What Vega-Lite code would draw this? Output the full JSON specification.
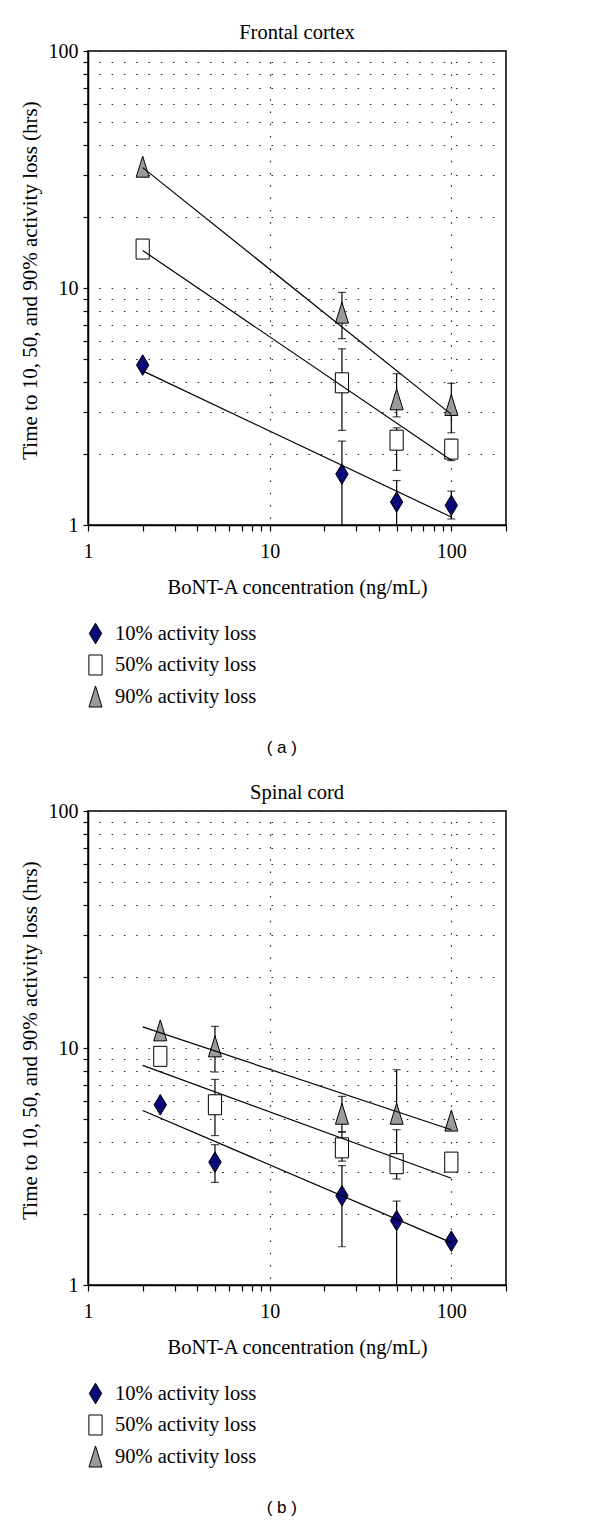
{
  "$schema": "https://vega.github.io/schema/vega-lite/v6.json",
  "padding": {"left": 18, "top": 21, "right": 5, "bottom": 5},
  "background": "white",
  "config": {
    "view": {"stroke": "black", "strokeWidth": 1.5},
    "font": "Liberation Serif",
    "axis": {
      "labelFont": "Liberation Serif",
      "labelFontSize": 20,
      "labelColor": "black",
      "titleFont": "Liberation Serif",
      "titleFontWeight": "normal",
      "titleColor": "black",
      "domainColor": "black",
      "domainWidth": 1.5,
      "tickColor": "black",
      "tickWidth": 1.2,
      "gridColor": "#222222",
      "gridWidth": 1.2,
      "gridDash": [1.5, 10.8],
      "gridDashOffset": 1.5,
      "labelOverlap": false,
      "labelFlush": false
    },
    "legend": {
      "orient": "none",
      "legendX": -3,
      "legendY": 572,
      "direction": "vertical",
      "labelFont": "Liberation Serif",
      "labelFontSize": 20.5,
      "labelColor": "black",
      "symbolSize": 400,
      "symbolStrokeColor": "black",
      "symbolStrokeWidth": 1,
      "symbolOpacity": 1,
      "rowPadding": 6.5,
      "labelOffset": 9
    }
  },
  "datasets": {
    "pts": [
      {"panel": "a", "series": "10% activity loss", "x": 2, "y": 4.73, "lo": null, "hi": null},
      {"panel": "a", "series": "10% activity loss", "x": 25, "y": 1.64, "lo": 0.97, "hi": 2.26},
      {"panel": "a", "series": "10% activity loss", "x": 50, "y": 1.25, "lo": 0.97, "hi": 1.54},
      {"panel": "a", "series": "10% activity loss", "x": 100, "y": 1.21, "lo": 1.06, "hi": 1.39},
      {"panel": "a", "series": "50% activity loss", "x": 2, "y": 14.6, "lo": null, "hi": null},
      {"panel": "a", "series": "50% activity loss", "x": 25, "y": 3.98, "lo": 2.51, "hi": 5.54},
      {"panel": "a", "series": "50% activity loss", "x": 50, "y": 2.28, "lo": 1.70, "hi": 2.57},
      {"panel": "a", "series": "50% activity loss", "x": 100, "y": 2.09, "lo": 1.87, "hi": 2.30},
      {"panel": "a", "series": "90% activity loss", "x": 2, "y": 32.5, "lo": null, "hi": null},
      {"panel": "a", "series": "90% activity loss", "x": 25, "y": 7.87, "lo": 6.11, "hi": 9.59},
      {"panel": "a", "series": "90% activity loss", "x": 50, "y": 3.39, "lo": 2.86, "hi": 4.35},
      {"panel": "a", "series": "90% activity loss", "x": 100, "y": 3.21, "lo": 2.45, "hi": 3.96},
      {"panel": "b", "series": "10% activity loss", "x": 2.5, "y": 5.76, "lo": null, "hi": null},
      {"panel": "b", "series": "10% activity loss", "x": 5, "y": 3.30, "lo": 2.71, "hi": 3.91},
      {"panel": "b", "series": "10% activity loss", "x": 25, "y": 2.38, "lo": 1.45, "hi": 3.19},
      {"panel": "b", "series": "10% activity loss", "x": 50, "y": 1.87, "lo": 0.95, "hi": 2.26},
      {"panel": "b", "series": "10% activity loss", "x": 100, "y": 1.53, "lo": null, "hi": null},
      {"panel": "b", "series": "50% activity loss", "x": 2.5, "y": 9.22, "lo": null, "hi": null},
      {"panel": "b", "series": "50% activity loss", "x": 5, "y": 5.76, "lo": 4.27, "hi": 7.37},
      {"panel": "b", "series": "50% activity loss", "x": 25, "y": 3.79, "lo": 3.33, "hi": 4.42},
      {"panel": "b", "series": "50% activity loss", "x": 50, "y": 3.25, "lo": 2.80, "hi": 4.52},
      {"panel": "b", "series": "50% activity loss", "x": 100, "y": 3.30, "lo": null, "hi": null},
      {"panel": "b", "series": "90% activity loss", "x": 2.5, "y": 11.87, "lo": null, "hi": null},
      {"panel": "b", "series": "90% activity loss", "x": 5, "y": 10.16, "lo": 7.92, "hi": 12.34},
      {"panel": "b", "series": "90% activity loss", "x": 25, "y": 5.28, "lo": 4.44, "hi": 6.25},
      {"panel": "b", "series": "90% activity loss", "x": 50, "y": 5.28, "lo": 4.79, "hi": 8.10},
      {"panel": "b", "series": "90% activity loss", "x": 100, "y": 4.94, "lo": null, "hi": null}
    ],
    "trend": [
      {"panel": "a", "series": "10% activity loss", "x": 2, "y": 4.47},
      {"panel": "a", "series": "10% activity loss", "x": 100, "y": 1.08},
      {"panel": "a", "series": "50% activity loss", "x": 2, "y": 14.4},
      {"panel": "a", "series": "50% activity loss", "x": 100, "y": 1.875},
      {"panel": "a", "series": "90% activity loss", "x": 2, "y": 32.2},
      {"panel": "a", "series": "90% activity loss", "x": 100, "y": 2.93},
      {"panel": "b", "series": "10% activity loss", "x": 2, "y": 5.45},
      {"panel": "b", "series": "10% activity loss", "x": 100, "y": 1.51},
      {"panel": "b", "series": "50% activity loss", "x": 2, "y": 8.45},
      {"panel": "b", "series": "50% activity loss", "x": 100, "y": 2.82},
      {"panel": "b", "series": "90% activity loss", "x": 2, "y": 12.27},
      {"panel": "b", "series": "90% activity loss", "x": 100, "y": 4.52}
    ]
  },
  "spacing": 25,
  "resolve": {"scale": {"shape": "independent", "fill": "independent"}, "legend": {"shape": "independent", "fill": "independent"}},
  "vconcat": [
    {
      "title": {"text": "( a )", "orient": "bottom", "anchor": "middle", "font": "Liberation Sans", "fontSize": 17, "fontWeight": "normal", "color": "black", "dx": 19, "offset": 30},
      "resolve": {"legend": {"shape": "independent", "fill": "independent"}},
      "vconcat": [
        {
          "width": 418,
          "height": 474,
          "title": {"text": "Frontal cortex", "anchor": "middle", "font": "Liberation Serif", "fontSize": 20.5, "fontWeight": "normal", "color": "black", "offset": -2},
          "encoding": {
            "x": {
              "field": "x", "type": "quantitative",
              "scale": {"type": "log", "domain": [1, 200]},
              "axis": {
                "title": "BoNT-A concentration (ng/mL)",
                "titleFontSize": 20.5,
                "titlePadding": 16,
                "values": [1, 2, 3, 4, 5, 6, 7, 8, 9, 10, 20, 30, 40, 50, 60, 70, 80, 90, 100, 200],
                "labelExpr": "datum.value == 1 || datum.value == 10 || datum.value == 100 ? toString(datum.value) : ''",
                "tickSize": 6,
                "labelPadding": 10,
                "grid": true,
                "gridOpacity": {"condition": {"test": "datum.value == 10 || datum.value == 100", "value": 1}, "value": 0}
              }
            }
          },
          "layer": [
            {
              "data": {"name": "pts"},
              "transform": [{"filter": "datum.panel == 'a' && datum.lo != null"}],
              "mark": {"type": "rule", "color": "black", "strokeWidth": 1.2, "clip": true},
              "encoding": {
                "y": {"field": "lo", "type": "quantitative", "scale": {"type": "log", "domain": [1, 100]},
                  "axis": {"title": "Time to 10, 50, and 90% activity loss (hrs)", "titleFontSize": 21, "titlePadding": 8, "titleY": 229, "values": [1, 2, 3, 4, 5, 6, 7, 8, 9, 10, 20, 30, 40, 50, 60, 70, 80, 90, 100], "labelExpr": "datum.value == 1 || datum.value == 10 || datum.value == 100 ? toString(datum.value) : ''", "tickSize": 5, "labelPadding": 5, "grid": true}},
                "y2": {"field": "hi"}
              }
            },
            {
              "data": {"name": "pts"},
              "transform": [{"filter": "datum.panel == 'a' && datum.lo != null"}, {"fold": ["lo", "hi"], "as": ["end", "val"]}],
              "mark": {"type": "tick", "orient": "horizontal", "color": "black", "size": 8, "thickness": 1.2, "clip": true},
              "encoding": {
                "y": {"field": "val", "type": "quantitative", "scale": {"type": "log", "domain": [1, 100]},
                  "axis": {"title": "Time to 10, 50, and 90% activity loss (hrs)", "titleFontSize": 21, "titlePadding": 8, "titleY": 229, "values": [1, 2, 3, 4, 5, 6, 7, 8, 9, 10, 20, 30, 40, 50, 60, 70, 80, 90, 100], "labelExpr": "datum.value == 1 || datum.value == 10 || datum.value == 100 ? toString(datum.value) : ''", "tickSize": 5, "labelPadding": 5, "grid": true}}
              }
            },
            {
              "data": {"name": "pts"},
              "transform": [{"filter": "datum.panel == 'a'"}],
              "mark": {"type": "point", "filled": true, "opacity": 1, "stroke": "black", "strokeWidth": 1, "size": 400},
              "encoding": {
                "y": {"field": "y", "type": "quantitative", "scale": {"type": "log", "domain": [1, 100]},
                  "axis": {"title": "Time to 10, 50, and 90% activity loss (hrs)", "titleFontSize": 21, "titlePadding": 8, "titleY": 229, "values": [1, 2, 3, 4, 5, 6, 7, 8, 9, 10, 20, 30, 40, 50, 60, 70, 80, 90, 100], "labelExpr": "datum.value == 1 || datum.value == 10 || datum.value == 100 ? toString(datum.value) : ''", "tickSize": 5, "labelPadding": 5, "grid": true}},
                "shape": {
                  "field": "series", "type": "nominal",
                  "scale": {"domain": ["10% activity loss", "50% activity loss", "90% activity loss"], "range": ["M0,-1.03L0.62,0L0,1.03L-0.62,0Z", "M-0.66,-1H0.66V1H-0.66Z", "M0,-1.05L0.65,1.05H-0.65Z"]},
                  "legend": {"title": null, "encode": {"symbols": {"update": {"stroke": {"value": "black"}, "strokeWidth": {"value": 1}}}}}
                },
                "fill": {
                  "field": "series", "type": "nominal",
                  "scale": {"domain": ["10% activity loss", "50% activity loss", "90% activity loss"], "range": ["#0a0a78", "#ffffff", "#9a9a9a"]},
                  "legend": {"title": null, "encode": {"symbols": {"update": {"stroke": {"value": "black"}, "strokeWidth": {"value": 1}}}}}
                }
              }
            },
            {
              "data": {"name": "trend"},
              "transform": [{"filter": "datum.panel == 'a'"}],
              "mark": {"type": "line", "color": "black", "strokeWidth": 1.2},
              "encoding": {
                "y": {"field": "y", "type": "quantitative", "scale": {"type": "log", "domain": [1, 100]},
                  "axis": {"title": "Time to 10, 50, and 90% activity loss (hrs)", "titleFontSize": 21, "titlePadding": 8, "titleY": 229, "values": [1, 2, 3, 4, 5, 6, 7, 8, 9, 10, 20, 30, 40, 50, 60, 70, 80, 90, 100], "labelExpr": "datum.value == 1 || datum.value == 10 || datum.value == 100 ? toString(datum.value) : ''", "tickSize": 5, "labelPadding": 5, "grid": true}},
                "detail": {"field": "series"}
              }
            }
          ]
        }
      ]
    },
    {
      "title": {"text": "( b )", "orient": "bottom", "anchor": "middle", "font": "Liberation Sans", "fontSize": 17, "fontWeight": "normal", "color": "black", "dx": 19, "offset": 30},
      "resolve": {"legend": {"shape": "independent", "fill": "independent"}},
      "vconcat": [
        {
          "width": 418,
          "height": 474,
          "title": {"text": "Spinal cord", "anchor": "middle", "font": "Liberation Serif", "fontSize": 20.5, "fontWeight": "normal", "color": "black", "offset": -2},
          "encoding": {
            "x": {
              "field": "x", "type": "quantitative",
              "scale": {"type": "log", "domain": [1, 200]},
              "axis": {
                "title": "BoNT-A concentration (ng/mL)",
                "titleFontSize": 20.5,
                "titlePadding": 16,
                "values": [1, 2, 3, 4, 5, 6, 7, 8, 9, 10, 20, 30, 40, 50, 60, 70, 80, 90, 100, 200],
                "labelExpr": "datum.value == 1 || datum.value == 10 || datum.value == 100 ? toString(datum.value) : ''",
                "tickSize": 6,
                "labelPadding": 10,
                "grid": true,
                "gridOpacity": {"condition": {"test": "datum.value == 10 || datum.value == 100", "value": 1}, "value": 0}
              }
            }
          },
          "layer": [
            {
              "data": {"name": "pts"},
              "transform": [{"filter": "datum.panel == 'b' && datum.lo != null"}],
              "mark": {"type": "rule", "color": "black", "strokeWidth": 1.2, "clip": true},
              "encoding": {
                "y": {"field": "lo", "type": "quantitative", "scale": {"type": "log", "domain": [1, 100]},
                  "axis": {"title": "Time to 10, 50, and 90% activity loss (hrs)", "titleFontSize": 21, "titlePadding": 8, "titleY": 229, "values": [1, 2, 3, 4, 5, 6, 7, 8, 9, 10, 20, 30, 40, 50, 60, 70, 80, 90, 100], "labelExpr": "datum.value == 1 || datum.value == 10 || datum.value == 100 ? toString(datum.value) : ''", "tickSize": 5, "labelPadding": 5, "grid": true}},
                "y2": {"field": "hi"}
              }
            },
            {
              "data": {"name": "pts"},
              "transform": [{"filter": "datum.panel == 'b' && datum.lo != null"}, {"fold": ["lo", "hi"], "as": ["end", "val"]}],
              "mark": {"type": "tick", "orient": "horizontal", "color": "black", "size": 8, "thickness": 1.2, "clip": true},
              "encoding": {
                "y": {"field": "val", "type": "quantitative", "scale": {"type": "log", "domain": [1, 100]},
                  "axis": {"title": "Time to 10, 50, and 90% activity loss (hrs)", "titleFontSize": 21, "titlePadding": 8, "titleY": 229, "values": [1, 2, 3, 4, 5, 6, 7, 8, 9, 10, 20, 30, 40, 50, 60, 70, 80, 90, 100], "labelExpr": "datum.value == 1 || datum.value == 10 || datum.value == 100 ? toString(datum.value) : ''", "tickSize": 5, "labelPadding": 5, "grid": true}}
              }
            },
            {
              "data": {"name": "pts"},
              "transform": [{"filter": "datum.panel == 'b'"}],
              "mark": {"type": "point", "filled": true, "opacity": 1, "stroke": "black", "strokeWidth": 1, "size": 400},
              "encoding": {
                "y": {"field": "y", "type": "quantitative", "scale": {"type": "log", "domain": [1, 100]},
                  "axis": {"title": "Time to 10, 50, and 90% activity loss (hrs)", "titleFontSize": 21, "titlePadding": 8, "titleY": 229, "values": [1, 2, 3, 4, 5, 6, 7, 8, 9, 10, 20, 30, 40, 50, 60, 70, 80, 90, 100], "labelExpr": "datum.value == 1 || datum.value == 10 || datum.value == 100 ? toString(datum.value) : ''", "tickSize": 5, "labelPadding": 5, "grid": true}},
                "shape": {
                  "field": "series", "type": "nominal",
                  "scale": {"domain": ["10% activity loss", "50% activity loss", "90% activity loss"], "range": ["M0,-1.03L0.62,0L0,1.03L-0.62,0Z", "M-0.66,-1H0.66V1H-0.66Z", "M0,-1.05L0.65,1.05H-0.65Z"]},
                  "legend": {"title": null, "encode": {"symbols": {"update": {"stroke": {"value": "black"}, "strokeWidth": {"value": 1}}}}}
                },
                "fill": {
                  "field": "series", "type": "nominal",
                  "scale": {"domain": ["10% activity loss", "50% activity loss", "90% activity loss"], "range": ["#0a0a78", "#ffffff", "#9a9a9a"]},
                  "legend": {"title": null, "encode": {"symbols": {"update": {"stroke": {"value": "black"}, "strokeWidth": {"value": 1}}}}}
                }
              }
            },
            {
              "data": {"name": "trend"},
              "transform": [{"filter": "datum.panel == 'b'"}],
              "mark": {"type": "line", "color": "black", "strokeWidth": 1.2},
              "encoding": {
                "y": {"field": "y", "type": "quantitative", "scale": {"type": "log", "domain": [1, 100]},
                  "axis": {"title": "Time to 10, 50, and 90% activity loss (hrs)", "titleFontSize": 21, "titlePadding": 8, "titleY": 229, "values": [1, 2, 3, 4, 5, 6, 7, 8, 9, 10, 20, 30, 40, 50, 60, 70, 80, 90, 100], "labelExpr": "datum.value == 1 || datum.value == 10 || datum.value == 100 ? toString(datum.value) : ''", "tickSize": 5, "labelPadding": 5, "grid": true}},
                "detail": {"field": "series"}
              }
            }
          ]
        }
      ]
    }
  ]
}
